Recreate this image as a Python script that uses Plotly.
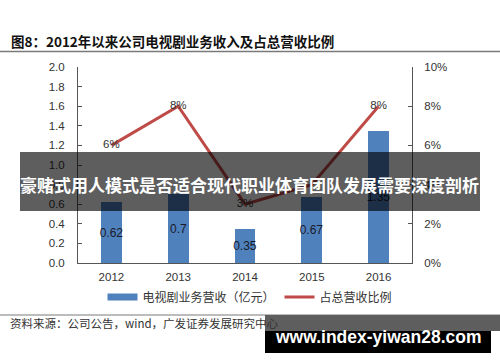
import plotly.graph_objects as go

years = ["2012", "2013", "2014", "2015", "2016"]
revenue = [0.62, 0.7, 0.35, 0.67, 1.35]          # 电视剧业务营收（亿元）
share = [0.06, 0.08, 0.03, 0.04, 0.08]           # 占总营收比例
share_labels = ["6%", "8%", "3%", "", "8%"]
left_ticks = [0.0, 0.2, 0.4, 0.6, 0.8, 1.0, 1.2, 1.4, 1.6, 1.8, 2.0]
right_ticks = [0, 0.02, 0.04, 0.06, 0.08, 0.10]

W, H = 500, 362
L, R, T, B = 78, 412, 67, 263
BLUE = "#4F81BD"
RED = "#BE4B48"


def px(x):
    return (x - L) / (R - L)


def py(y):
    return (B - y) / (B - T)


fig = go.Figure()
fig.add_trace(go.Bar(
    x=years, y=revenue, name="电视剧业务营收（亿元）",
    marker=dict(color=BLUE, line=dict(width=0)),
    width=0.31, showlegend=False,
    text=[f"{v:g}" for v in revenue], textposition="inside", textangle=0,
    insidetextanchor="middle", constraintext="none",
    textfont=dict(family="Liberation Sans, Arial", size=12, color="#1a1a2a"),
    yaxis="y",
))
# legend proxy for the bar series (wide flat swatch like the reference)
fig.add_trace(go.Scatter(
    x=[None], y=[None], name="电视剧业务营收（亿元）", mode="lines",
    line=dict(color=BLUE, width=7), yaxis="y", hoverinfo="skip",
))
fig.add_trace(go.Scatter(
    x=years, y=share, name="占总营收比例", mode="lines+text",
    line=dict(color=RED, width=3),
    text=share_labels, textposition="middle center",
    textfont=dict(family="Liberation Sans, Arial", size=11.5, color="#333333"),
    yaxis="y2", cliponaxis=False,
))

axfont = dict(family="Liberation Sans, Arial", size=11.5, color="#333333")
fig.update_layout(
    width=W, height=H,
    margin=dict(l=L, r=W - R, t=T, b=H - B, pad=0),
    paper_bgcolor="white", plot_bgcolor="white",
    template="none",
    showlegend=True,
    legend=dict(orientation="h", x=px(250), y=-(297 - B) / (B - T),
                xanchor="center", yanchor="middle",
                font=dict(family="Noto Sans CJK SC", size=12, color="#333333"),
                itemwidth=30, tracegroupgap=0, bgcolor="rgba(0,0,0,0)"),
    xaxis=dict(type="category", showgrid=False, zeroline=False,
               showline=True, linecolor="#555555", linewidth=1,
               ticks="", tickfont=axfont, automargin=False,
               ticklabelstandoff=3),
    yaxis=dict(range=[0, 2.0], tickvals=left_ticks, tickformat=".1f",
               showgrid=False, zeroline=False, showline=True,
               linecolor="#555555", linewidth=1, ticks="inside", ticklen=4,
               tickcolor="#555555", tickfont=axfont, automargin=False,
               ticklabelstandoff=10),
    yaxis2=dict(range=[0, 0.10], tickvals=right_ticks, tickformat=".0%",
                overlaying="y", side="right",
                showgrid=False, zeroline=False, showline=True,
                linecolor="#555555", linewidth=1, ticks="inside", ticklen=4,
                tickcolor="#555555", tickfont=axfont, automargin=False,
                ticklabelstandoff=9),
    bargap=0,
)

shapes = []
shapes.append(dict(type="line", xref="paper", yref="paper",
                   x0=px(0), x1=px(W), y0=py(51.5), y1=py(51.5),
                   line=dict(color="#7a7a7a", width=1.5), layer="above"))
shapes.append(dict(type="line", xref="paper", yref="paper",
                   x0=px(0), x1=px(W), y0=py(315), y1=py(315),
                   line=dict(color="#7a7a7a", width=1.2), layer="above"))
shapes.append(dict(type="rect", xref="paper", yref="paper",
                   x0=px(20), x1=px(480), y0=py(211), y1=py(152),
                   fillcolor="rgba(0,0,0,0.63)", line=dict(width=0), layer="above"))
shapes.append(dict(type="rect", xref="paper", yref="paper",
                   x0=px(265), x1=px(491), y0=py(353), y1=py(315),
                   fillcolor="#000000", line=dict(width=0), layer="above"))
shapes.append(dict(type="rect", xref="paper", yref="paper",
                   x0=px(265), x1=px(500), y0=py(331), y1=py(315),
                   fillcolor="#5e5e5e", line=dict(width=0), layer="above"))
fig.update_layout(shapes=shapes)

ann = []
ann.append(dict(text="<b>图8：2012年以来公司电视剧业务收入及占总营收比例</b>",
                xref="paper", yref="paper", x=px(9), y=py(41),
                xanchor="left", yanchor="middle", showarrow=False,
                font=dict(family="Noto Sans CJK SC", size=13.5, color="#111111")))
ann.append(dict(text="资料来源：公司公告，wind，广发证券发展研究中心",
                xref="paper", yref="paper", x=px(8), y=py(323),
                xanchor="left", yanchor="middle", showarrow=False,
                font=dict(family="Noto Sans CJK SC", size=11.5, color="#333333")))
ann.append(dict(text="<b>豪赌式用人模式是否适合现代职业体育团队发展需要深度剖析</b>",
                xref="paper", yref="paper", x=px(250), y=py(184),
                xanchor="center", yanchor="middle", showarrow=False,
                font=dict(family="Noto Sans CJK SC", size=17, color="#ffffff")))
ann.append(dict(text="<b>www.index-yiwan28.com</b>",
                xref="paper", yref="paper", x=px(378), y=py(337),
                xanchor="center", yanchor="middle", showarrow=False,
                font=dict(family="Liberation Sans, Arial", size=17.5, color="#ffffff")))
fig.update_layout(annotations=ann)

fig.write_html("out.html")
